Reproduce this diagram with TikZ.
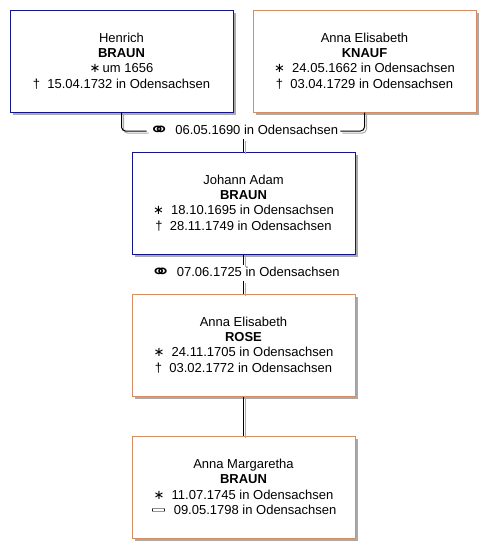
\documentclass[tikz,border=0pt]{standalone}
\usepackage{fontspec}
\setmainfont{Liberation Sans}
\newfontfamily\symfont{DejaVu Sans}
\usetikzlibrary{shadows}
\definecolor{malebox}{RGB}{20,20,140}
\definecolor{femalebox}{RGB}{215,140,100}
\definecolor{shadowgrey}{RGB}{170,170,170}
\newcommand{\bornsym}{{\symfont ∗}}
\newcommand{\diedsym}{†}
\newcommand{\marrsym}{\raisebox{-0.25ex}{\scalebox{1.9}[1.5]{\symfont ⚭}}}
\newcommand{\burialsym}{\raisebox{0.3ex}{\scalebox{1.3}[0.6]{\symfont ▭}}}
\tikzset{
  person/.style={rectangle, fill=white, draw, line width=0.75pt,
    minimum width=167.25pt, minimum height=76.5pt, inner sep=0pt,
    align=center, font=\fontsize{9.75}{11.5}\selectfont,
    drop shadow={shadow xshift=2.25pt, shadow yshift=-2.25pt, fill=shadowgrey, opacity=1}},
  male/.style={person, draw=malebox},
  female/.style={person, draw=femalebox},
  marr/.style={fill=white, inner sep=1.5pt, font=\fontsize{9.75}{11.5}\selectfont},
  conn/.style={line width=0.75pt, black},
  connshadow/.style={line width=0.75pt, shadowgrey, transform canvas={shift={(1.5pt,-1.5pt)}}},
}
\begin{document}
\begin{tikzpicture}[x=0.75pt, y=-0.75pt]
\useasboundingbox[fill=white] (0,0) rectangle (496,558);

\node[marr] (m1) at (243.5,131) {\marrsym\ \,06.05.1690 in Odensachsen};
\node[marr] (m2) at (245,273) {\marrsym\ \,07.06.1725 in Odensachsen};

\node[male] (b1) at (121.5,61) {Henrich\\\textbf{BRAUN}\\\bornsym\,um 1656\\\diedsym\ \ 15.04.1732 in Odensachsen};
\node[female] (b2) at (364.5,61) {Anna Elisabeth\\\textbf{KNAUF}\\\bornsym\ \ 24.05.1662 in Odensachsen\\\diedsym\ \ 03.04.1729 in Odensachsen};
\node[male] (b3) at (243.5,203) {Johann Adam\\\textbf{BRAUN}\\\bornsym\ \ 18.10.1695 in Odensachsen\\\diedsym\ \ 28.11.1749 in Odensachsen};
\node[female] (b4) at (243.5,345) {Anna Elisabeth\\\textbf{ROSE}\\\bornsym\ \ 24.11.1705 in Odensachsen\\\diedsym\ \ 03.02.1772 in Odensachsen};
\node[female] (b5) at (243.5,487) {Anna Margaretha\\\textbf{BRAUN}\\\bornsym\ \ 11.07.1745 in Odensachsen\\\burialsym\ \ 09.05.1798 in Odensachsen};

\foreach \s in {connshadow, conn} {
  \draw[\s, rounded corners=3pt] (b1.south) |- (m1.west);
  \draw[\s, rounded corners=3pt] (b2.south) |- (m1.east);
  \draw[\s] (m1.south -| b3.north) -- (b3.north);
  \draw[\s] (b3.south) -- (b3.south |- m2.north);
  \draw[\s] (b4.north |- m2.south) -- (b4.north);
  \draw[\s] (b4.south) -- (b5.north);
}
\end{tikzpicture}
\end{document}
